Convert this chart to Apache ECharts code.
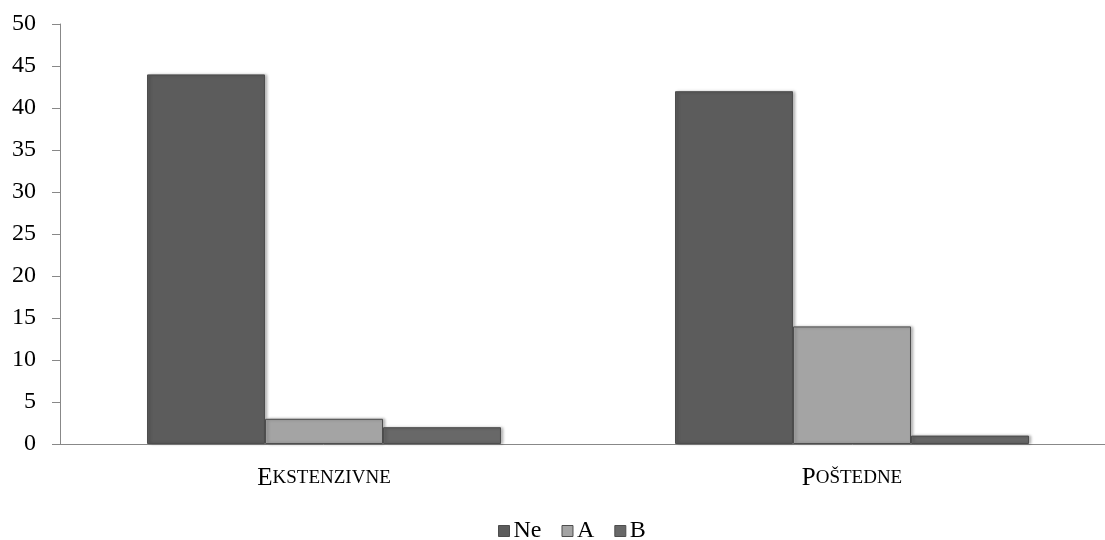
<!DOCTYPE html>
<html>
<head>
<meta charset="utf-8">
<script src="https://cdn.jsdelivr.net/npm/echarts@6/dist/echarts.min.js"></script>
<style>
  html, body { margin: 0; padding: 0; background: #fff; overflow: hidden; }
  #chart { width: 1116px; height: 540px; }
</style>
</head>
<body>
<div id="chart"></div>
<script>
  // data
  const categories = ['Ekstenzivne', 'Poštedne'];
  const seriesNames = ['Ne', 'A', 'B'];
  const neValues = [44, 42];
  const aValues = [3, 14];
  const bValues = [2, 1];
  const yTicks = [0, 50, 5]; // min, max, interval

  const colors = {
    Ne: '#5c5c5c',
    A: '#a4a4a4',
    B: '#686868'
  };

  function barStyle(name) {
    return {
      color: colors[name],
      borderColor: '#4d4d4d',
      borderWidth: 1,
      shadowColor: 'rgba(0,0,0,0.3)',
      shadowBlur: 3,
      shadowOffsetX: 2
    };
  }

  const values = { Ne: neValues, A: aValues, B: bValues };
  const serif = 'Liberation Serif, Times New Roman, serif';

  const chart = echarts.init(document.getElementById('chart'));
  chart.setOption({
    animation: false,
    textStyle: { fontFamily: serif },
    grid: { left: 60, right: 0, top: 24, bottom: 96, containLabel: false },
    legend: {
      top: 514,
      left: 493,
      itemWidth: 11,
      itemHeight: 11,
      itemGap: 20,
      icon: 'rect',
      textStyle: { fontSize: 24, color: '#000', fontFamily: serif, padding: [0, 0, 0, -1] },
      data: seriesNames.map(n => ({ name: n, itemStyle: { color: colors[n], borderColor: '#4d4d4d', borderWidth: 1 } }))
    },
    xAxis: {
      type: 'category',
      data: categories,
      axisLine: { lineStyle: { color: '#888', width: 1 } },
      axisTick: { length: 8, lineStyle: { color: '#888' } },
      axisLabel: {
        margin: 22,
        formatter: function (v) {
          const up = v.toUpperCase();
          return '{big|' + up[0] + '}{small|' + up.slice(1) + '}';
        },
        rich: {
          big: { fontSize: 25, color: '#000', fontFamily: serif },
          small: { fontSize: 19, color: '#000', fontFamily: serif }
        }
      }
    },
    yAxis: {
      type: 'value',
      min: yTicks[0],
      max: yTicks[1],
      interval: yTicks[2],
      splitLine: { show: false },
      axisLine: { show: true, lineStyle: { color: '#888', width: 1 } },
      axisTick: { show: true, length: 8, lineStyle: { color: '#888' } },
      axisLabel: { fontSize: 24, color: '#000', margin: 24, fontFamily: serif }
    },
    series: seriesNames.map(name => ({
      name: name,
      type: 'bar',
      data: values[name],
      barWidth: 118,
      barGap: '0%',
      itemStyle: barStyle(name)
    }))
  });
</script>
</body>
</html>
